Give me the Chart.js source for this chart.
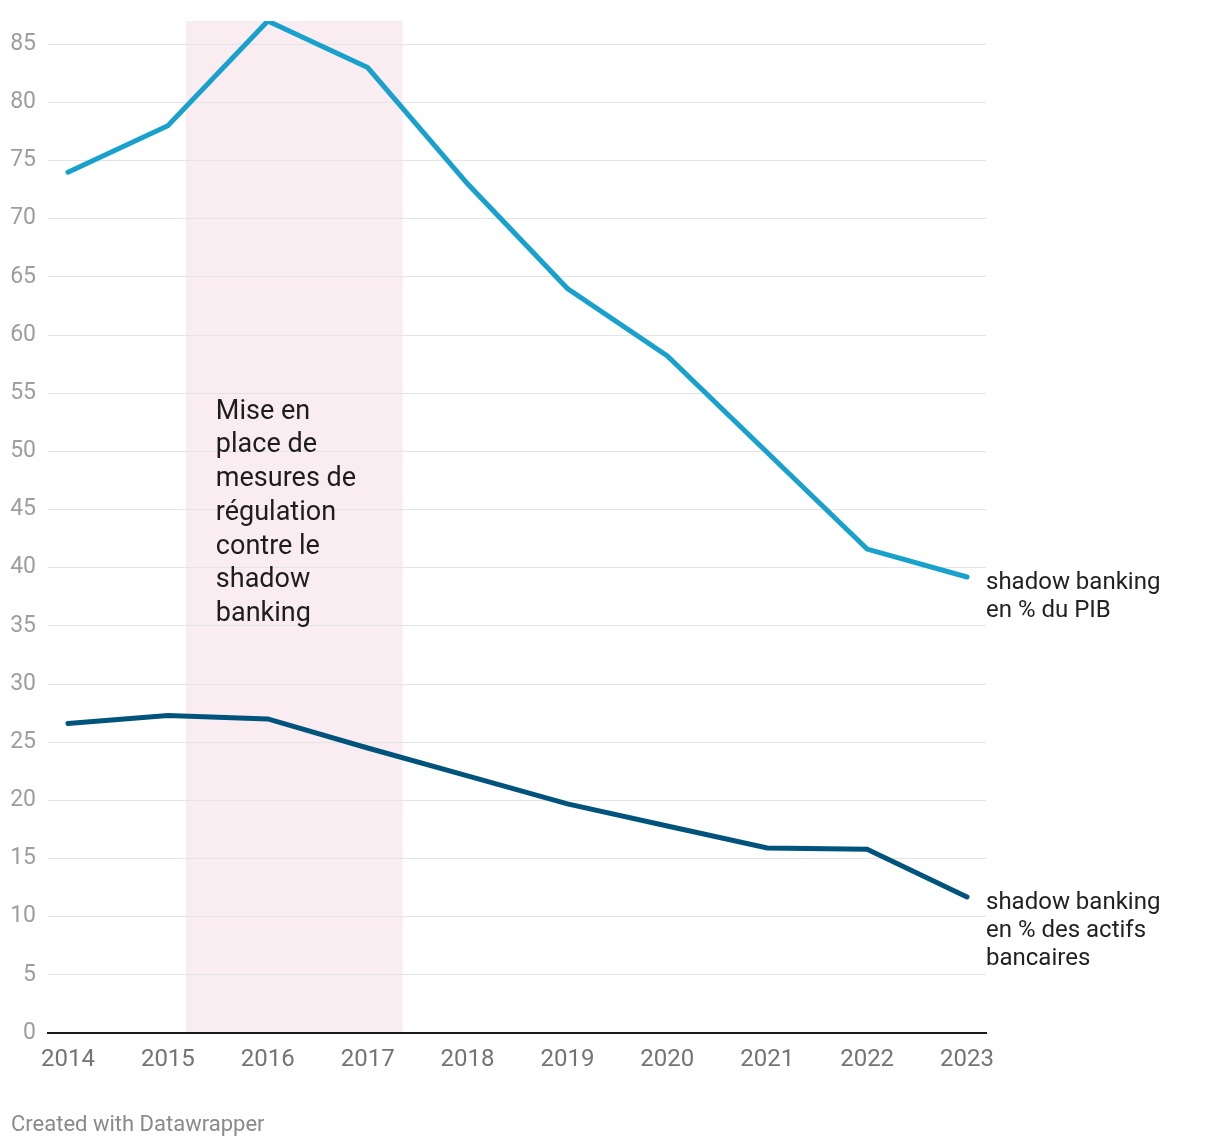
<!DOCTYPE html>
<html>
<head>
<meta charset="utf-8">
<script src="https://cdn.jsdelivr.net/npm/chart.js@4/dist/chart.umd.min.js"></script>
<style>
  body { margin: 0; background: #fff; }
  #wrap { position: relative; width: 1220px; height: 1148px; }
  #footer { position: absolute; left: 11px; top: 1111px; font: 22px Roboto, sans-serif; color: #8a8a8a; }
</style>
</head>
<body>
<div id="wrap">
  <canvas id="graficoShadow"></canvas>
  <div id="footer">Created with Datawrapper</div>
</div>
<script>
// Datos
const years = [2014, 2015, 2016, 2017, 2018, 2019, 2020, 2021, 2022, 2023]
const pibValues = [74, 78, 87, 83, 73, 64, 58.2, 49.9, 41.6, 39.2]
const actifsValues = [26.6, 27.3, 27.0, 24.5, 22.1, 19.7, 17.8, 15.9, 15.8, 11.7]
const yTicks = [0, 5, 10, 15, 20, 25, 30, 35, 40, 45, 50, 55, 60, 65, 70, 75, 80, 85]
const regulationStart = 2015.18
const regulationEnd = 2017.35
const annotationLines = ['Mise en', 'place de', 'mesures de', 'régulation', 'contre le', 'shadow', 'banking']
const pibLabel = ['shadow banking', 'en % du PIB']
const actifsLabel = ['shadow banking', 'en % des actifs', 'bancaires']

const FONT = 'Roboto, sans-serif'

// Banda rosa, detras de la cuadricula
const bandPlugin = {
    id: 'band',
    beforeDraw(chart) {
        const { ctx, scales: { x, y } } = chart
        const x0 = x.getPixelForValue(regulationStart)
        const x1 = x.getPixelForValue(regulationEnd)
        ctx.save()
        ctx.fillStyle = '#faedf1'
        ctx.fillRect(x0, y.getPixelForValue(87), x1 - x0, y.getPixelForValue(0) - y.getPixelForValue(87))
        ctx.restore()
    }
}

// Textos de anotacion y etiquetas de series
const labelsPlugin = {
    id: 'labels',
    afterDraw(chart) {
        const { ctx, scales: { x, y } } = chart
        ctx.save()
        ctx.textBaseline = 'alphabetic'
        ctx.textAlign = 'left'
        ctx.fillStyle = '#1d1d1d'
        ctx.font = '27px ' + FONT
        let ax = x.getPixelForValue(regulationStart) + 30
        let ay = y.getPixelForValue(55) + 25.5
        annotationLines.forEach((t, i) => ctx.fillText(t, ax, ay + i * 33.7))

        ctx.font = '24px ' + FONT
        ctx.fillStyle = '#222'
        const lx = chart.chartArea.right
        const last = years.length - 1
        let py = y.getPixelForValue(pibValues[last]) + 12
        pibLabel.forEach((t, i) => ctx.fillText(t, lx, py + i * 28))
        let qy = y.getPixelForValue(actifsValues[last]) + 12
        actifsLabel.forEach((t, i) => ctx.fillText(t, lx, qy + i * 28))
        ctx.restore()
    }
}

const toPoints = vals => vals.map((v, i) => ({ x: years[i], y: v }))

new Chart(document.getElementById('graficoShadow'), {
    type: 'line',
    data: {
        datasets: [{
            label: 'shadow banking en % du PIB',
            data: toPoints(pibValues),
            borderColor: '#18a1cd',
            borderWidth: 5,
            borderCapStyle: 'round',
            pointRadius: 0,
            tension: 0
        }, {
            label: 'shadow banking en % des actifs bancaires',
            data: toPoints(actifsValues),
            borderColor: '#00547c',
            borderWidth: 5,
            borderCapStyle: 'round',
            pointRadius: 0,
            tension: 0
        }]
    },
    options: {
        responsive: true,
        maintainAspectRatio: false,
        animation: false,
        layout: { padding: { left: 0, top: 21, right: 234, bottom: 65 } },
        plugins: { legend: { display: false }, tooltip: { enabled: false } },
        scales: {
            x: {
                type: 'linear',
                min: 2013.8,
                max: 2023.19,
                afterBuildTicks: scale => { scale.ticks = years.map(v => ({ value: v })) },
                afterFit: scale => {
                    scale.height = 50
                    scale.paddingLeft = 0
                    scale.paddingRight = 0
                },
                grid: { display: false, drawTicks: false },
                border: { display: true, color: '#1a1a1a', width: 2 },
                ticks: {
                    padding: 13,
                    color: '#747474',
                    font: { family: FONT, size: 24 },
                    callback: v => String(v)
                }
            },
            y: {
                min: 0,
                max: 87,
                afterBuildTicks: scale => { scale.ticks = yTicks.map(v => ({ value: v })) },
                afterFit: scale => {
                    scale.width = 48
                    scale.paddingTop = 0
                    scale.paddingBottom = 0
                },
                grid: { color: '#e4e4e4', lineWidth: 1, drawTicks: false },
                border: { display: false },
                ticks: {
                    padding: 12,
                    color: '#9e9e9e',
                    font: { family: FONT, size: 23 }
                }
            }
        }
    },
    plugins: [bandPlugin, labelsPlugin]
})
</script>
</body>
</html>
